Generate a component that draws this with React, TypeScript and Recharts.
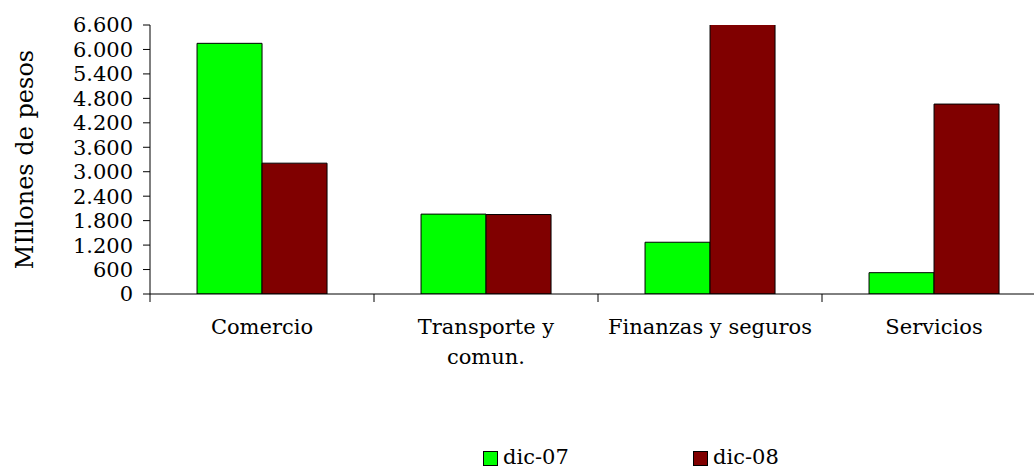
import { Bar, BarChart, XAxis, YAxis } from "recharts";

const categories = ["Comercio", "Transporte y\ncomun.", "Finanzas y seguros", "Servicios"];
const dic07 = [6150, 1960, 1270, 523];
const dic08 = [3210, 1950, 6670, 4660];
const yTicks = [0, 600, 1200, 1800, 2400, 3000, 3600, 4200, 4800, 5400, 6000, 6600];

const FONT = "'DejaVu Serif', serif";
const GREEN = "#00ff00";
const MAROON = "#800000";

const data = categories.map((name, i) => ({ name, dic07: dic07[i], dic08: dic08[i] }));

const fmt = (v: number) => v.toLocaleString("de-DE");

function CategoryTick(props: any) {
  const { x, y, payload, width, visibleTicksCount } = props;
  const half = payload?.offset ?? width / visibleTicksCount / 2;
  const lines = String(payload.value).split("\n");
  return (
    <g>
      <line x1={x - half} x2={x - half} y1={y - 8} y2={y} stroke="#000" />
      <text textAnchor="middle" fontFamily={FONT} fontSize={21} fill="#000">
        {lines.map((l, i) => (
          <tspan key={i} x={x} y={y + 32 + i * 30}>
            {l}
          </tspan>
        ))}
      </text>
    </g>
  );
}

function LegendBox() {
  const items = [
    { label: "dic-07", color: GREEN },
    { label: "dic-08", color: MAROON },
  ];
  return (
    <div
      style={{
        position: "absolute",
        left: 483,
        top: 447,
        display: "flex",
        fontFamily: FONT,
        fontSize: 21,
        lineHeight: "21px",
        color: "#000",
      }}
    >
      {items.map((it) => (
        <div key={it.label} style={{ display: "flex", alignItems: "center", width: 210, height: 21 }}>
          <span
            style={{
              display: "inline-block",
              width: 13,
              height: 13,
              background: it.color,
              border: "1px solid #000",
              marginRight: 5,
              marginTop: 2,
            }}
          />
          <span>{it.label}</span>
        </div>
      ))}
    </div>
  );
}

export default function App() {
  return (
    <div
      style={{
        position: "fixed",
        left: 0,
        top: 0,
        width: 1034,
        height: 468,
        overflow: "hidden",
        background: "#fff",
      }}
    >
      <BarChart
        width={1060}
        height={468}
        data={data}
        margin={{ top: 25, right: 14, bottom: 0, left: 0 }}
        barCategoryGap="21%"
        barGap={0}
      >
        <XAxis
          dataKey="name"
          interval={0}
          axisLine={{ stroke: "#000" }}
          tickLine={{ stroke: "none" }}
          tickSize={8}
          tickMargin={0}
          tick={<CategoryTick />}
          height={174}
        />
        <YAxis
          width={150}
          domain={[0, 6600]}
          ticks={yTicks}
          allowDataOverflow
          interval={0}
          axisLine={{ stroke: "#000" }}
          tickLine={{ stroke: "#000" }}
          tickSize={7}
          tickMargin={10}
          tickFormatter={fmt}
          tick={{ fill: "#000", fontFamily: FONT, fontSize: 21 }}
          label={{
            value: "MIllones de pesos",
            angle: -90,
            position: "center",
            dx: -51,
            fill: "#000",
            fontFamily: FONT,
            fontSize: 24,
          }}
        />
        <Bar dataKey="dic07" fill={GREEN} stroke="#000" strokeWidth={1} isAnimationActive={false} />
        <Bar dataKey="dic08" fill={MAROON} stroke="#000" strokeWidth={1} isAnimationActive={false} />
      </BarChart>
      <LegendBox />
    </div>
  );
}
